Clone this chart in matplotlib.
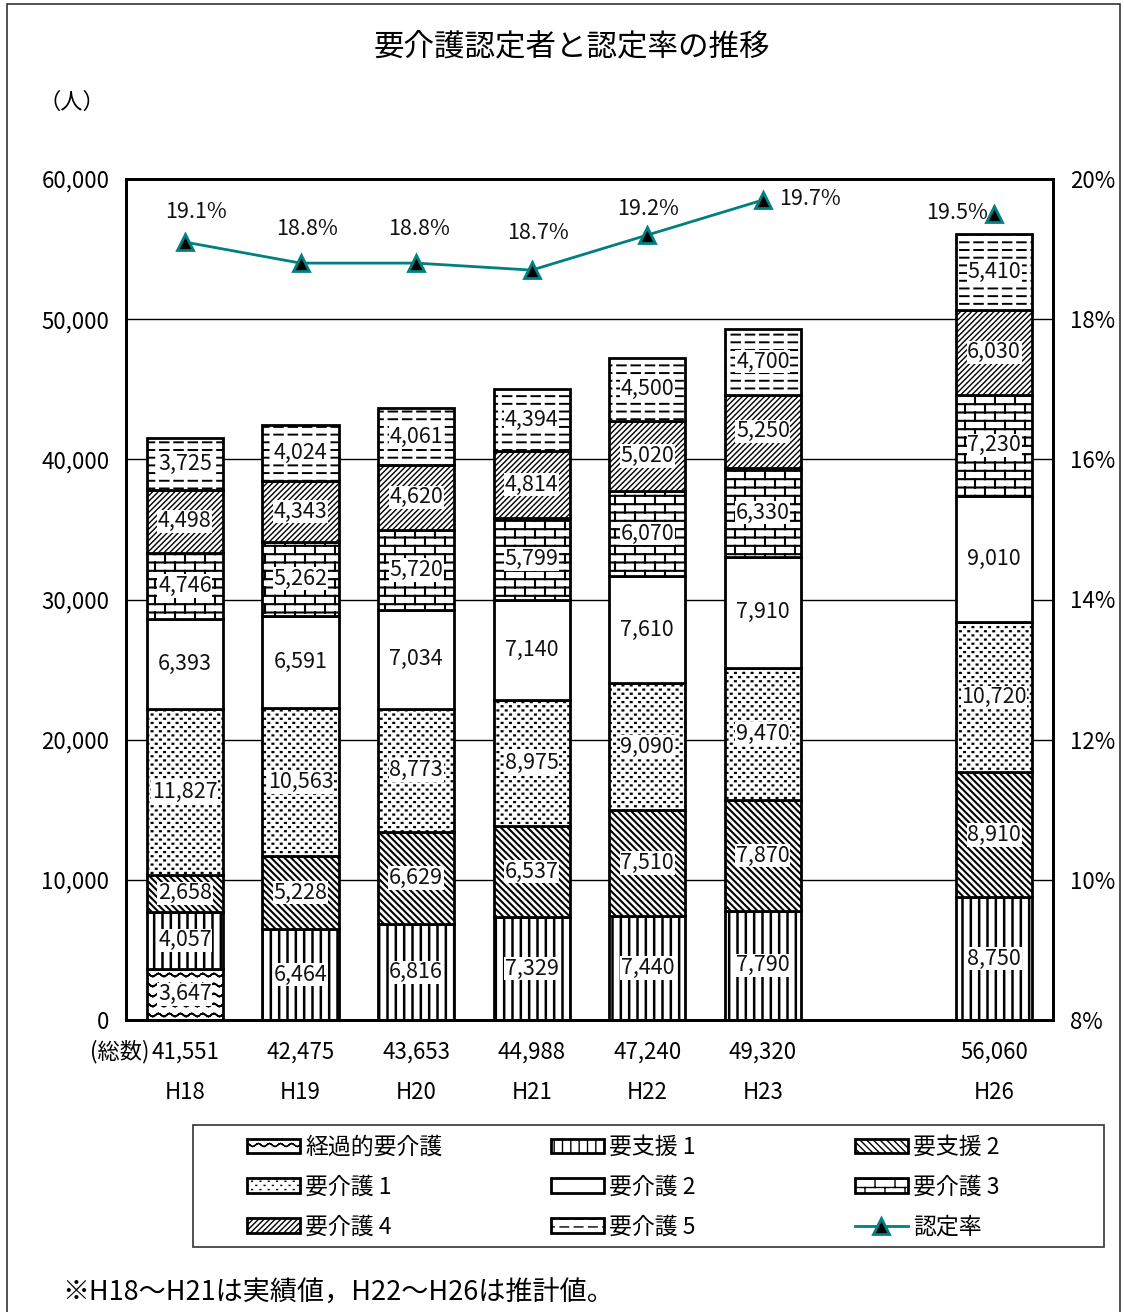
import warnings
import numpy as np
import matplotlib
matplotlib.use("Agg")
import matplotlib.pyplot as plt
import matplotlib.hatch as mhatch
from matplotlib.path import Path
from matplotlib.patches import Rectangle, Patch
from matplotlib.lines import Line2D

warnings.filterwarnings("ignore")
plt.rcParams['font.family'] = ['Noto Sans CJK JP', 'DejaVu Sans']

# ---- data ----
years = ['H18', 'H19', 'H20', 'H21', 'H22', 'H23', 'H26']
xpos = [0, 1, 2, 3, 4, 5, 7]
keika = [3647, 0, 0, 0, 0, 0, 0]          # 経過的要介護
shien1 = [4057, 6464, 6816, 7329, 7440, 7790, 8750]
shien2 = [2658, 5228, 6629, 6537, 7510, 7870, 8910]
kaigo1 = [11827, 10563, 8773, 8975, 9090, 9470, 10720]
kaigo2 = [6393, 6591, 7034, 7140, 7610, 7910, 9010]
kaigo3 = [4746, 5262, 5720, 5799, 6070, 6330, 7230]
kaigo4 = [4498, 4343, 4620, 4814, 5020, 5250, 6030]
kaigo5 = [3725, 4024, 4061, 4394, 4500, 4700, 5410]
totals = [41551, 42475, 43653, 44988, 47240, 49320, 56060]
rate = [19.1, 18.8, 18.8, 18.7, 19.2, 19.7, 19.5]

names = ['経過的要介護', '要支援 1', '要支援 2', '要介護 1', '要介護 2',
         '要介護 3', '要介護 4', '要介護 5']
series = [keika, shien1, shien2, kaigo1, kaigo2, kaigo3, kaigo4, kaigo5]


# ---- custom hatches (wave, brick, dash, dots) ----
def wave_segs():
    xs = np.linspace(0, 1, 9 * 8 + 1)
    segs = []
    for r in range(10):
        ys = (r + 0.5) / 10 + 0.015 * np.sin(2 * np.pi * 9 * xs)
        for i in range(len(xs) - 1):
            segs.append([[xs[i], ys[i]], [xs[i + 1], ys[i + 1]]])
    return np.array(segs)


def brick_segs():
    rows, cols = 12, 5
    segs = []
    for r in range(rows):
        y0 = (r + 0.5) / rows
        segs.append([[0, y0], [1, y0]])
        off = 0.05 + (0.5 / cols if r % 2 else 0)
        for c in range(cols):
            x = c / cols + off
            if r < rows - 1:
                segs.append([[x, y0], [x, y0 + 1 / rows]])
            else:
                segs.append([[x, y0], [x, 1]])
                segs.append([[x, 0], [x, 0.5 / rows]])
    return np.array(segs)


def dash_segs():
    rows, n = 13, 7
    segs = []
    for r in range(rows):
        y = (r + 0.5) / rows
        for c in range(n):
            x0 = (c + 0.2) / n
            segs.append([[x0, y], [x0 + 0.6 / n, y]])
    return np.array(segs)


def dot_segs():
    rows, cols = 24, 12
    segs = []
    for r in range(rows):
        y = (r + 0.5) / rows
        off = 0.25 / cols if r % 2 == 0 else 0.75 / cols
        for c in range(cols):
            x = c / cols + off
            segs.append([[x - 0.004, y], [x + 0.004, y]])
    return np.array(segs)


class CustomHatch(mhatch.HatchPatternBase):
    def __init__(self, hatch, density):
        self.segs = np.zeros((0, 2, 2))
        if '~' in hatch:
            self.segs = wave_segs()
        elif 'b' in hatch:
            self.segs = brick_segs()
        elif '_' in hatch:
            self.segs = dash_segs()
        elif ':' in hatch:
            self.segs = dot_segs()
        self.num_vertices = len(self.segs) * 2

    def set_vertices_and_codes(self, vertices, codes):
        vertices[0::2] = self.segs[:, 0]
        vertices[1::2] = self.segs[:, 1]
        codes[0::2] = Path.MOVETO
        codes[1::2] = Path.LINETO

    get_vertices_and_codes = set_vertices_and_codes


mhatch._hatch_types.append(CustomHatch)
mhatch._validate_hatch_pattern = lambda h: None

hatches = ['~', '||', '\\' * 5, ':', None, 'b', '//////', '_']
hatch_lw = [1.2, 1.8, 1.5, 1.6, 1.0, 1.5, 1.0, 1.4]

# ---- figure ----
fig = plt.figure(figsize=(11.24, 13.12), dpi=100)
ax = fig.add_axes([126 / 1124, 1 - 1020 / 1312, 927 / 1124, 841 / 1312])
ax2 = ax.twinx()

fig.patches.append(Rectangle((7 / 1124, -0.02), 1113 / 1124, 1.02 - 4 / 1312,
                             transform=fig.transFigure, fill=False,
                             edgecolor='#333333', lw=1.2))

ax.set_zorder(2)
ax2.set_zorder(3)
ax.patch.set_visible(False)

bottom = np.zeros(len(xpos))
for i, vals in enumerate(series):
    vals = np.array(vals, dtype=float)
    bars = ax.bar(xpos, vals, width=0.66, bottom=bottom, color='white',
                  edgecolor='black', linewidth=2, hatch=hatches[i], zorder=3)
    for b, v in zip(bars, vals):
        if v == 0:
            b.set_visible(False)
            continue
        if hasattr(b, 'set_hatch_linewidth'):
            b.set_hatch_linewidth(hatch_lw[i])
        ax.text(b.get_x() + b.get_width() / 2, b.get_y() + v / 2,
                f'{int(v):,}', ha='center', va='center', fontsize=15.5,
                zorder=5, color='#111111',
                bbox=dict(facecolor='white', edgecolor='none', pad=0.5))
    bottom += vals

ax.set_xlim(-0.51, 7.51)
ax.set_ylim(0, 60000)
ax.set_yticks(np.arange(0, 60001, 10000))
ax.set_yticklabels([f'{v:,}' for v in range(0, 60001, 10000)])
ax.grid(axis='y', color='black', lw=1, zorder=0)
ax.set_axisbelow(True)
ax.set_xticks([])
ax.tick_params(axis='y', length=0, pad=12, labelsize=16)
for s in ax.spines.values():
    s.set_linewidth(2)

# rate line
ax2.set_ylim(8, 20)
ax2.set_yticks(np.arange(8, 21, 2))
ax2.set_yticklabels([f'{v}%' for v in range(8, 21, 2)])
ax2.tick_params(axis='y', length=0, pad=12, labelsize=16)
for s in ax2.spines.values():
    s.set_linewidth(2)
teal = '#008080'
ax2.plot(xpos[:6], rate[:6], color=teal, lw=2, marker='^', ms=11,
         mfc='black', mec=teal, mew=2)
ax2.plot(xpos[6:], rate[6:], color=teal, lw=2, marker='^', ms=11,
         mfc='black', mec=teal, mew=2, ls='none')
label_off = [(11, 30), (7, 34), (3, 34), (6, 37), (1, 26), (47, 1), (-37, 1)]
for x, r, off in zip(xpos, rate, label_off):
    ax2.annotate(f'{r}%', (x, r), xytext=off, textcoords='offset pixels',
                 ha='center', va='center', fontsize=15.5, color='#111111')

# totals and year labels below axis
tr = ax.get_xaxis_transform()
for x, t, y in zip(xpos, totals, years):
    ax.text(x, -0.038, f'{t:,}', transform=tr, ha='center', va='center',
            fontsize=16, clip_on=False)
    ax.text(x, -0.0868, y, transform=tr, ha='center', va='center',
            fontsize=16, clip_on=False)
ax.annotate('(総数)', (xpos[0], -0.038), xycoords=tr, xytext=(-36, 0),
            textcoords='offset pixels', ha='right', va='center', fontsize=16)

fig.text(572 / 1124, 1 - 47 / 1312, '要介護認定者と認定率の推移',
         ha='center', va='center', fontsize=22)
fig.text(72 / 1124, 1 - 102 / 1312, '（人）', ha='center', va='center',
         fontsize=16)
fig.text(62 / 1124, 1 - 1293 / 1312, '※H18～H21は実績値，H22～H26は推計値。',
         ha='left', va='center', fontsize=19.5)

# legend: three columns placed like the original (row-major)
handles = [Patch(facecolor='white', edgecolor='black', lw=2, hatch=h)
           for h in hatches]
line_h = Line2D([], [], color=teal, lw=2, marker='^', ms=11, mfc='black',
                mec=teal, mew=2)
all_h = handles + [line_h]
all_l = names + ['認定率']
col_x = [247, 551, 855]
for c in range(3):
    idx = [c, c + 3, c + 6]
    fig.legend([all_h[k] for k in idx], [all_l[k] for k in idx],
               loc='upper left', bbox_to_anchor=(col_x[c] / 1124, 1 - 1136 / 1312),
               fontsize=16.5, frameon=False, handlelength=2.3,
               handleheight=0.62, handletextpad=0.25, labelspacing=0.74,
               borderpad=0, borderaxespad=0)
fig.patches.append(Rectangle((193 / 1124, 1 - 1247 / 1312), 911 / 1124, 122 / 1312,
                             transform=fig.transFigure, fill=False,
                             edgecolor='#333333', lw=1.2))

fig.savefig('out.png', dpi=100)
